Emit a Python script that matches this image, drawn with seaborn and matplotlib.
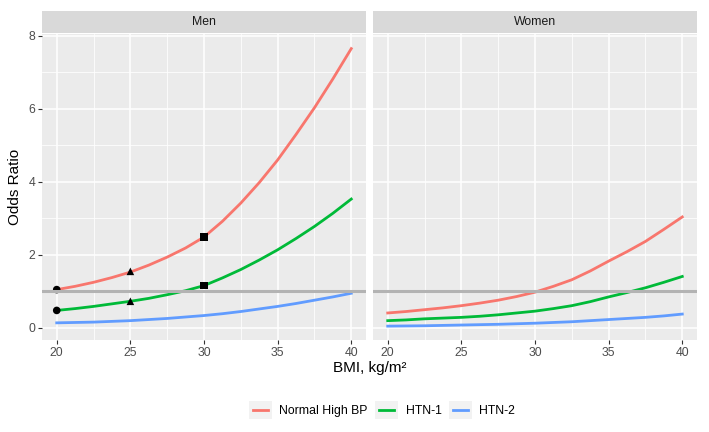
import numpy as np
import pandas as pd
import matplotlib.pyplot as plt
import seaborn as sns
from matplotlib.legend_handler import HandlerBase
from matplotlib.lines import Line2D
from matplotlib.patches import Rectangle

# values
bmi = [20, 21.25, 22.5, 23.75, 25, 26.25, 27.5, 28.75, 30,
       31.25, 32.5, 33.75, 35, 36.25, 37.5, 38.75, 40]
groups = ['Normal High BP', 'HTN-1', 'HTN-2']
colors = ['#F8766D', '#00BA38', '#619CFF']

men_normal_high = [1.05, 1.14, 1.25, 1.38, 1.53, 1.72, 1.94, 2.19, 2.49,
                   2.92, 3.42, 3.98, 4.60, 5.30, 6.03, 6.82, 7.65]
men_htn1 = [0.48, 0.53, 0.59, 0.66, 0.73, 0.81, 0.91, 1.02, 1.16,
            1.37, 1.60, 1.86, 2.14, 2.45, 2.78, 3.14, 3.53]
men_htn2 = [0.14, 0.15, 0.16, 0.18, 0.20, 0.23, 0.26, 0.30, 0.34,
            0.39, 0.45, 0.52, 0.59, 0.67, 0.76, 0.85, 0.95]

women_normal_high = [0.41, 0.45, 0.50, 0.55, 0.61, 0.68, 0.76, 0.86, 0.98,
                     1.14, 1.32, 1.56, 1.83, 2.09, 2.37, 2.70, 3.04]
women_htn1 = [0.20, 0.22, 0.25, 0.27, 0.29, 0.32, 0.36, 0.41, 0.46,
              0.53, 0.61, 0.72, 0.85, 0.97, 1.10, 1.25, 1.41]
women_htn2 = [0.05, 0.055, 0.06, 0.07, 0.08, 0.09, 0.10, 0.115, 0.13,
              0.15, 0.17, 0.20, 0.23, 0.26, 0.29, 0.33, 0.38]

# black reference points on the Men panel
mark_bmi = [20, 20, 25, 25, 30, 30]
mark_or = [1.05, 0.48, 1.55, 0.73, 2.49, 1.16]
mark_kind = ['20', '20', '25', '25', '30', '30']

panels = {
    'Men': [men_normal_high, men_htn1, men_htn2],
    'Women': [women_normal_high, women_htn1, women_htn2],
}

rows = []
for sex, series in panels.items():
    for g, vals in zip(groups, series):
        for b, v in zip(bmi, vals):
            rows.append({'sex': sex, 'group': g, 'bmi': b, 'odds': v})
df = pd.DataFrame(rows)
marks = pd.DataFrame({'bmi': mark_bmi, 'odds': mark_or, 'kind': mark_kind})

plt.rcParams['font.family'] = ['Liberation Sans', 'DejaVu Sans']

W, H = 709, 432
fig = plt.figure(figsize=(W / 100, H / 100), dpi=100)

# panel geometry in pixels
top, bottom = 34, 340
lefts = [42, 373]
width = 324
strip_h = 22

for i, sex in enumerate(['Men', 'Women']):
    ax = fig.add_axes([lefts[i] / W, 1 - bottom / H, width / W, (bottom - top) / H])
    ax.set_facecolor('#EBEBEB')
    for s in ax.spines.values():
        s.set_visible(False)

    ax.set_xlim(19.0, 41.0)
    ax.set_ylim(-0.33, 8.05)
    ax.set_xticks([20, 25, 30, 35, 40])
    ax.set_yticks([0, 2, 4, 6, 8])
    ax.set_xticks([22.5, 27.5, 32.5, 37.5], minor=True)
    ax.set_yticks([1, 3, 5, 7], minor=True)
    ax.grid(which='major', color='white', linewidth=1.1)
    ax.grid(which='minor', color='white', linewidth=0.55)
    ax.set_axisbelow(True)
    ax.tick_params(which='major', length=3, width=0.8, color='#333333',
                   labelsize=8.8, labelcolor='#4D4D4D', pad=2)
    ax.tick_params(which='minor', length=0)
    if i == 1:
        ax.tick_params(axis='y', left=False, labelleft=False)

    sub = df[df['sex'] == sex]
    sns.lineplot(data=sub, x='bmi', y='odds', hue='group', hue_order=groups,
                 palette=colors, linewidth=2.0, legend=False, ax=ax, zorder=3)
    if sex == 'Men':
        sns.scatterplot(data=marks, x='bmi', y='odds', style='kind',
                        markers={'20': 'o', '25': '^', '30': 's'},
                        color='black', s=30, edgecolor='none', legend=False,
                        ax=ax, zorder=4)
    ax.axhline(1, color='#B3B3B3', linewidth=2.2, zorder=5)
    ax.set_xlabel('')
    ax.set_ylabel('')

    # facet strip
    sax = fig.add_axes([lefts[i] / W, 1 - (top - 1) / H, width / W, strip_h / H])
    sax.set_facecolor('#D9D9D9')
    sax.set_xticks([])
    sax.set_yticks([])
    for s in sax.spines.values():
        s.set_visible(False)
    sax.text(0.5, 0.5, sex, ha='center', va='center', fontsize=8.8,
             color='#1A1A1A', transform=sax.transAxes)

fig.text(370 / W, 1 - 368 / H, 'BMI, kg/m²', ha='center', va='center',
         fontsize=11, color='black')
fig.text(15 / W, 1 - 187 / H, 'Odds Ratio', ha='center', va='center',
         rotation=90, fontsize=11, color='black')


class KeyHandler(HandlerBase):
    def create_artists(self, legend, orig_handle, xdescent, ydescent,
                       width, height, fontsize, trans):
        bg = Rectangle((-xdescent, -ydescent), width, height,
                       facecolor='#F2F2F2', edgecolor='none', transform=trans)
        y = -ydescent + height / 2
        ln = Line2D([-xdescent + 3, -xdescent + width - 3], [y, y],
                    color=orig_handle.get_color(), linewidth=2.0,
                    transform=trans)
        return [bg, ln]


handles = [Line2D([], [], color=c) for c in colors]
fig.legend(handles, groups, loc='center', bbox_to_anchor=(382 / W, 1 - 410 / H),
           ncol=3, frameon=False, fontsize=8.8, handlelength=1.9,
           handleheight=1.9, handletextpad=0.6, columnspacing=0.6,
           handler_map={Line2D: KeyHandler()})

fig.savefig('out.png', dpi=100, facecolor='white')
